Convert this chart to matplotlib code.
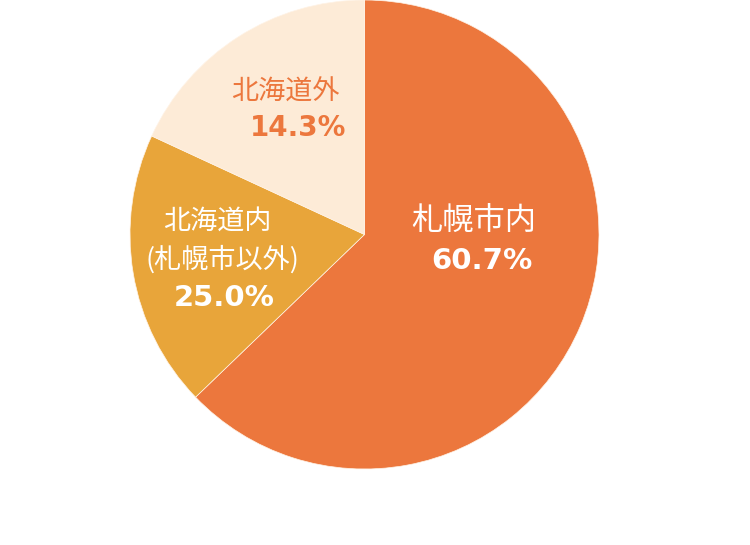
import matplotlib
matplotlib.use("Agg")
import matplotlib.pyplot as plt

# share of respondents by area
labels = ["札幌市内", "北海道内", "(札幌市以外)", "北海道外"]
pct_labels = ["60.7%", "25.0%", "14.3%"]
# slice sizes as drawn in the picture (the artwork is not drawn to scale)
shares = [62.8, 19.1, 18.1]
colors = ["#EC773D", "#E8A53A", "#FDEBD7"]

plt.rcParams["font.family"] = ["Noto Sans CJK JP", "DejaVu Sans"]
num_font = "DejaVu Sans"

W, H = 750, 545
cx, cy, r = 364.5, 234.5, 234.5

fig = plt.figure(figsize=(W / 100, H / 100), dpi=100)
ax = fig.add_axes([(cx - r) / W, (H - cy - r) / H, 2 * r / W, 2 * r / H])
ax.pie(shares, colors=colors, startangle=90, counterclock=False,
       radius=1, wedgeprops=dict(linewidth=0.5, edgecolor="#FFF3E6"))
ax.set_xlim(-1, 1)
ax.set_ylim(-1, 1)
ax.set_aspect("equal")
ax.axis("off")


def px(x, y):
    return (x - cx) / r, (cy - y) / r


# 札幌市内
ax.text(*px(474, 221), labels[0], color="white", fontsize=22.5,
        ha="center", va="center")
ax.text(*px(482, 261), pct_labels[0], color="white", fontsize=21,
        ha="center", va="center", family=num_font, fontweight="bold")

# 北海道内 (札幌市以外)
ax.text(*px(217.5, 221), labels[1], color="white", fontsize=19.5,
        ha="center", va="center")
ax.text(*px(222.5, 260), labels[2], color="white", fontsize=19.5,
        ha="center", va="center")
ax.text(*px(224.5, 298.5), pct_labels[1], color="white", fontsize=21,
        ha="center", va="center", family=num_font, fontweight="bold")

# 北海道外
ax.text(*px(285, 92.5), labels[3], color="#EC773D", fontsize=19.5,
        ha="center", va="center")
ax.text(*px(298, 127.5), pct_labels[2], color="#EC773D", fontsize=20,
        ha="center", va="center", family=num_font, fontweight="bold")

fig.savefig("out.png", dpi=100, facecolor="white")
